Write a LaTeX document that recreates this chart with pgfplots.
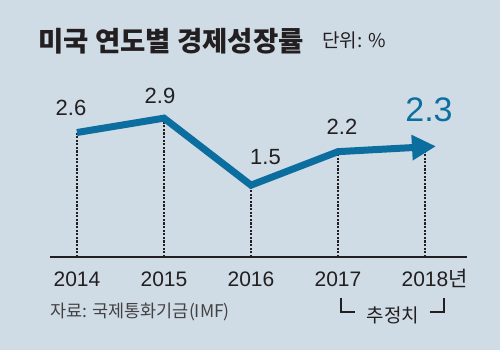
\documentclass[border=0pt]{standalone}
\usepackage{pgfplots}
\pgfplotsset{compat=1.18}
\usepackage{fontspec}
\usetikzlibrary{arrows.meta}
\setmainfont{Noto Sans CJK KR}
\newfontfamily\kr{Noto Sans CJK KR}
\newfontfamily\numf{Liberation Sans}
\definecolor{bg}{HTML}{CFDCE6}
\definecolor{lineblue}{HTML}{0B6E9E}
\definecolor{ink}{HTML}{231F20}
\begin{document}
\begin{tikzpicture}[x=1pt,y=1pt]
\fill[bg] (0,0) rectangle (500,350);
\node[anchor=base west, inner sep=0pt, text=ink] at (38,298) {\fontsize{27.5}{30}\selectfont\bfseries 미국 연도별 경제성장률};
\node[anchor=base west, inner sep=0pt, text=ink] at (322,302) {\fontsize{19}{20}\selectfont 단위: \%};
\begin{axis}[
  at={(50pt,93pt)}, anchor=south west,
  scale only axis, width=417pt, height=158pt,
  xmin=2013.69, xmax=2018.483, ymin=0, ymax=3.3,
  axis x line=bottom, axis y line=none,
  x axis line style={line width=2pt, ink, -},
  xtick={2014,2015,2016,2017,2018},
  xticklabels={2014,2015,2016,2017,2018\rlap{\kr 년}},
  major tick length=0pt,
  xticklabel style={anchor=base, yshift=-30pt, font=\fontsize{21}{21}\selectfont\numf, text=ink, inner sep=0pt},
  clip=false,
]
\addplot[ycomb, ink, line width=1.1pt, dash pattern=on 2.2pt off 1.4pt, no marks] coordinates {(2014,2.6) (2015,2.9) (2016,1.5) (2017,2.2) (2018,2.3)};
\addplot[line width=7pt, lineblue, line join=miter, no marks, -{Triangle[length=24pt,width=24pt]}, shorten >=-11pt] coordinates {(2014,2.6) (2015,2.9) (2016,1.5) (2017,2.2) (2018,2.3)};
\node[anchor=base, inner sep=0pt, text=ink, font=\fontsize{22}{22}\selectfont\numf] at (axis cs:2014,2.6) [xshift=-6pt, yshift=17pt] {2.6};
\node[anchor=base, inner sep=0pt, text=ink, font=\fontsize{22}{22}\selectfont\numf] at (axis cs:2015,2.9) [xshift=-4pt, yshift=15pt] {2.9};
\node[anchor=base west, inner sep=0pt, text=ink, font=\fontsize{22}{22}\selectfont\numf] at (axis cs:2016,1.5) [xshift=-1pt, yshift=21pt] {1.5};
\node[anchor=base, inner sep=0pt, text=ink, font=\fontsize{22}{22}\selectfont\numf] at (axis cs:2017,2.2) [xshift=4pt, yshift=17pt] {2.2};
\node[anchor=base, inner sep=0pt, text=lineblue, font=\fontsize{34}{34}\selectfont\numf] at (axis cs:2018,2.3) [xshift=4pt, yshift=25pt] {2.3};
\end{axis}
\node[anchor=base west, inner sep=0pt, text=ink!85] at (50,32) {\fontsize{17.5}{19}\selectfont 자료: 국제통화기금(IMF)};
\node[anchor=base, inner sep=0pt, text=ink] at (393,27) {\fontsize{19}{21}\selectfont 추정치};
\draw[ink, line width=2pt] (341,52) -- (341,38) -- (355,38);
\draw[ink, line width=2pt] (430,38) -- (444,38) -- (444,52);
\end{tikzpicture}
\end{document}
